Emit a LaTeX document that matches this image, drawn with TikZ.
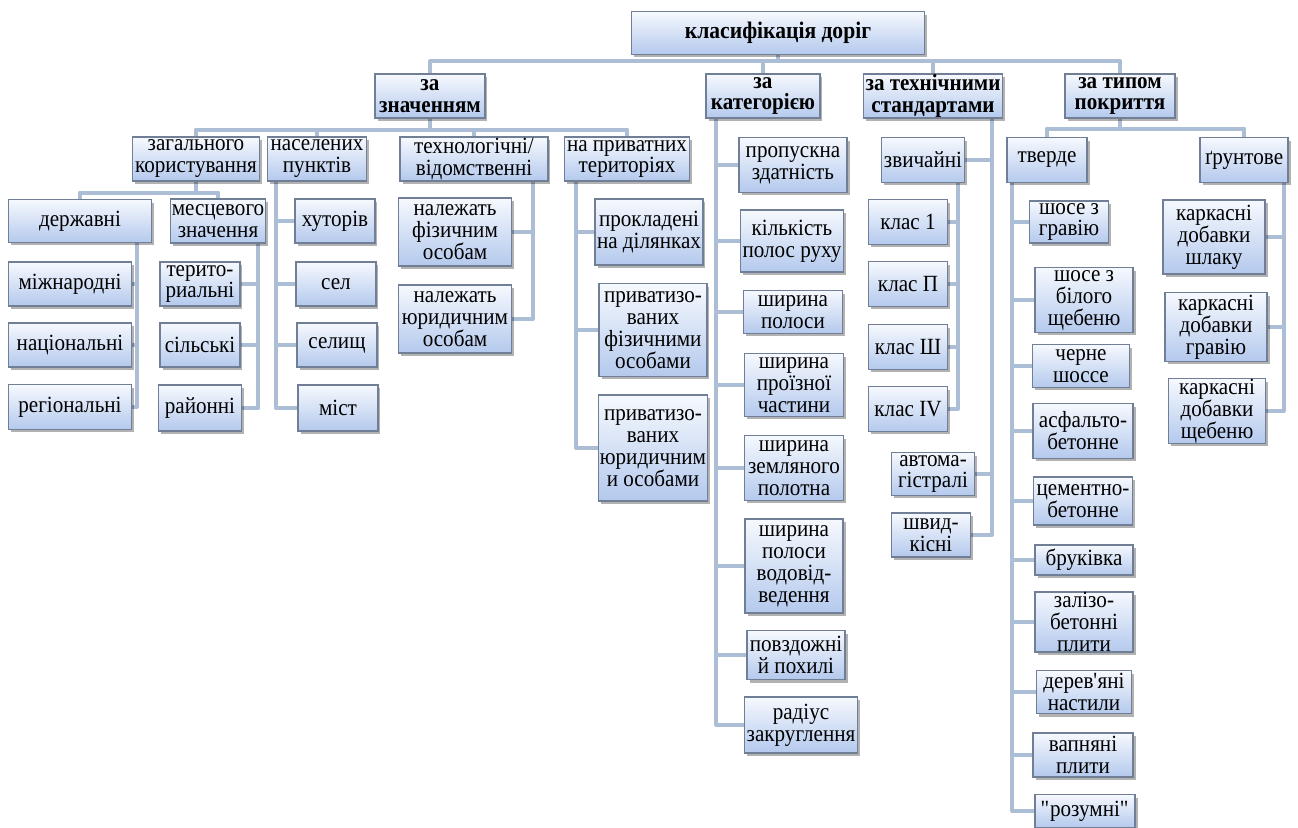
\documentclass[tikz,border=0pt]{standalone}
\usepackage{fontspec}
\setmainfont{Liberation Serif}[FakeStretch=0.91]
\usepackage{tikz}
\usetikzlibrary{shadows}
\usetikzlibrary{backgrounds}
\definecolor{boxtop}{RGB}{246,249,254}
\definecolor{boxbot}{RGB}{180,201,237}
\definecolor{boxline}{RGB}{112,126,150}
\definecolor{linkcol}{RGB}{172,189,214}
\tikzstyle{every node}+=[inner sep=0pt]
\tikzstyle{block} = [rectangle, draw=boxline, line width=0.6pt, top color=boxtop, bottom color=boxbot, align=center, inner xsep=1pt, font=\fontsize{13.2}{12.5}\selectfont, drop shadow={shadow xshift=0.05cm, shadow yshift=-0.06cm, fill=black, opacity=0.3}]
\tikzstyle{head} = [block, font=\fontsize{13.2}{12.5}\selectfont\bfseries]
\tikzstyle{line} = [draw=linkcol, line width=0.08cm, line join=round]
\tikzset{sz/.style 2 args={minimum width=#1cm, minimum height=#2cm}}

\begin{document}
\begin{tikzpicture}[x=0.02cm, y=-0.02cm]
            \useasboundingbox (0,0) rectangle (1298,828);
            % Place nodes
            \node [head, sz={5.86}{0.86}, font=\fontsize{13.5}{14}\selectfont\bfseries] (root) at (778,33) {класифікація доріг};
            \node [head, sz={2.20}{0.88}] (zn) at (430,96) {за\\значенням};
            \node [head, sz={2.28}{0.88}] (zk) at (763,96) {за\\категорією};
            \node [head, sz={2.66}{0.88}] (zt) at (933,96) {за технічними\\стандартами};
            \node [head, sz={2.20}{0.88}] (zp) at (1120,96) {за типом\\покриття};
            % за значенням
            \node [block, sz={2.54}{0.88}] (zg) at (196,159) {загального\\користування};
            \node [block, sz={1.98}{0.88}] (np) at (317,159) {населених\\пунктів};
            \node [block, sz={2.96}{0.88}] (tv) at (474,159) {технологічні/\\відомственні};
            \node [block, sz={2.50}{0.88}] (pt) at (627,159) {на приватних\\територіях};
            \node [block, sz={2.86}{0.86}] (dv) at (80,221) {державні};
            \node [block, sz={1.80}{0.88}] (mz) at (218,221) {месцевого\\значення};
            \node [block, sz={2.46}{0.88}] (mn) at (70,284) {міжнародні};
            \node [block, sz={2.46}{0.88}] (nc) at (70,345) {національні};
            \node [block, sz={2.46}{0.90}] (rg) at (70,407) {регіональні};
            \node [block, sz={1.60}{0.88}] (tr) at (200,284) {терито-\\риальні};
            \node [block, sz={1.60}{0.88}] (sl) at (200,345) {сільські};
            \node [block, sz={1.66}{0.92}] (rn) at (200,408) {районні};
            \node [block, sz={1.60}{0.88}] (xt) at (335,221) {хуторів};
            \node [block, sz={1.60}{0.88}] (sel) at (336,284) {сел};
            \node [block, sz={1.60}{0.88}] (slc) at (337,345) {селищ};
            \node [block, sz={1.60}{0.92}] (mst) at (338,408) {міст};
            \node [block, sz={2.26}{1.36}] (nf) at (455,232) {належать\\фізичним\\особам};
            \node [block, sz={2.26}{1.36}] (nj) at (455,319) {належать\\юридичним\\особам};
            \node [block, sz={2.16}{1.32}] (pd) at (649,232) {прокладені\\на ділянках};
            \node [block, sz={2.16}{1.86}] (pf) at (653,330) {приватизо-\\ваних\\фізичними\\особами};
            \node [block, sz={2.14}{2.12}] (pj) at (653,448) {приватизо-\\ваних\\юридичним\\и особами};
            % за категорією
            \node [block, sz={2.16}{1.10}] (c1) at (793,165) {пропускна\\здатність};
            \node [block, sz={1.98}{1.24}] (c2) at (792,241) {кількість\\полос руху};
            \node [block, sz={1.98}{0.86}] (c3) at (793,312) {ширина\\полоси};
            \node [block, sz={1.98}{1.26}] (c4) at (794,385) {ширина\\проїзної\\частини};
            \node [block, sz={1.98}{1.30}] (c5) at (794,468) {ширина\\земляного\\полотна};
            \node [block, sz={1.96}{1.88}] (c6) at (794,566) {ширина\\полоси\\водовід-\\ведення};
            \node [block, sz={1.96}{0.98}] (c7) at (796,655) {повздожні\\й похилі};
            \node [block, sz={2.16}{1.12}] (c8) at (801,725) {радіус\\закруглення};
            % за технічними стандартами
            \node [block, sz={1.66}{0.90}] (zv) at (923,160) {звичайні};
            \node [block, sz={1.58}{0.90}] (k1) at (908,222) {клас 1};
            \node [block, sz={1.58}{0.90}] (k2) at (908,284) {клас П};
            \node [block, sz={1.58}{0.90}] (k3) at (908,347) {клас Ш};
            \node [block, sz={1.58}{0.90}] (k4) at (908,409) {клас IV};
            \node [block, sz={1.66}{0.86}] (am) at (933,474) {автома-\\гістралі};
            \node [block, sz={1.58}{0.88}] (sh) at (931,535) {швид-\\кісні};
            % за типом покриття
            \node [block, sz={1.60}{0.90}] (tvd) at (1047,160) {тверде};
            \node [block, sz={1.76}{0.90}] (gr) at (1244,160) {ґрунтове};
            \node [block, sz={1.58}{0.84}] (s1) at (1069,222) {шосе з\\гравію};
            \node [block, sz={1.96}{1.30}] (s2) at (1084,300) {шосе з\\білого\\щебеню};
            \node [block, sz={1.94}{0.86}] (s3) at (1081,366) {черне\\шоссе};
            \node [block, sz={2.00}{1.10}] (s4) at (1083,431) {асфальто-\\бетонне};
            \node [block, sz={1.98}{0.96}] (s5) at (1083,501) {цементно-\\бетонне};
            \node [block, sz={1.96}{0.60}] (s6) at (1084,560) {бруківка};
            \node [block, sz={1.96}{1.20}] (s7) at (1084,622) {залізо-\\бетонні\\плити};
            \node [block, sz={1.90}{0.86}] (s8) at (1084,692) {дерев\textquotesingle яні\\настили};
            \node [block, sz={2.00}{0.88}] (s9) at (1083,755) {вапняні\\плити};
            \node [block, sz={2.00}{0.66}] (s10) at (1085,811) {\textquotedbl розумні\textquotedbl};
            \node [block, sz={2.04}{1.48}] (g1) at (1214,237) {каркасні\\добавки\\шлаку};
            \node [block, sz={2.04}{1.38}] (g2) at (1216,327) {каркасні\\добавки\\гравію};
            \node [block, sz={1.94}{1.16}] (g3) at (1217,411) {каркасні\\добавки\\щебеню};
            % Draw edges
            \begin{scope}[on background layer]
            \path [line] (root.south) -- ++(0,6) -| (zn.north);
            \path [line] (root.south) -- ++(0,6) -| (zk.north);
            \path [line] (root.south) -- ++(0,6) -| (zt.north);
            \path [line] (root.south) -- ++(0,6) -| (zp.north);
            \path [line] (zn.south) -- ++(0,11) -| (zg.north);
            \path [line] (zn.south) -- ++(0,11) -| (np.north);
            \path [line] (zn.south) -- ++(0,11) -| (tv.north);
            \path [line] (zn.south) -- ++(0,11) -| (pt.north);
            \path [line] (zg.south) -- ++(0,11) -| (dv.north);
            \path [line] (zg.south) -- ++(0,11) -| (mz.north);
            \path [line] ([xshift=-0.30cm]dv.south east) |- (mn.east);
            \path [line] ([xshift=-0.30cm]dv.south east) |- (nc.east);
            \path [line] ([xshift=-0.30cm]dv.south east) |- (rg.east);
            \path [line] ([xshift=-0.16cm]mz.south east) |- (tr.east);
            \path [line] ([xshift=-0.16cm]mz.south east) |- (sl.east);
            \path [line] ([xshift=-0.16cm]mz.south east) |- (rn.east);
            \path [line] ([xshift=0.18cm]np.south west) |- (xt.west);
            \path [line] ([xshift=0.18cm]np.south west) |- (sel.west);
            \path [line] ([xshift=0.18cm]np.south west) |- (slc.west);
            \path [line] ([xshift=0.18cm]np.south west) |- (mst.west);
            \path [line] ([xshift=-0.32cm]tv.south east) |- (nf.east);
            \path [line] ([xshift=-0.32cm]tv.south east) |- (nj.east);
            \path [line] ([xshift=0.24cm]pt.south west) |- (pd.west);
            \path [line] ([xshift=0.24cm]pt.south west) |- (pf.west);
            \path [line] ([xshift=0.24cm]pt.south west) |- (pj.west);
            \path [line] ([xshift=0.22cm]zk.south west) |- (c1.west);
            \path [line] ([xshift=0.22cm]zk.south west) |- (c2.west);
            \path [line] ([xshift=0.22cm]zk.south west) |- (c3.west);
            \path [line] ([xshift=0.22cm]zk.south west) |- (c4.west);
            \path [line] ([xshift=0.22cm]zk.south west) |- (c5.west);
            \path [line] ([xshift=0.22cm]zk.south west) |- (c6.west);
            \path [line] ([xshift=0.22cm]zk.south west) |- (c7.west);
            \path [line] ([xshift=0.22cm]zk.south west) |- (c8.west);
            \path [line] ([xshift=-0.22cm]zt.south east) |- (zv.east);
            \path [line] ([xshift=-0.22cm]zt.south east) |- (am.east);
            \path [line] ([xshift=-0.22cm]zt.south east) |- (sh.east);
            \path [line] ([xshift=-0.14cm]zv.south east) |- (k1.east);
            \path [line] ([xshift=-0.14cm]zv.south east) |- (k2.east);
            \path [line] ([xshift=-0.14cm]zv.south east) |- (k3.east);
            \path [line] ([xshift=-0.14cm]zv.south east) |- (k4.east);
            \path [line] (zp.south) -- ++(0,10) -| (tvd.north);
            \path [line] (zp.south) -- ++(0,10) -| (gr.north);
            \path [line] ([xshift=0.12cm]tvd.south west) |- (s1.west);
            \path [line] ([xshift=0.12cm]tvd.south west) |- (s2.west);
            \path [line] ([xshift=0.12cm]tvd.south west) |- (s3.west);
            \path [line] ([xshift=0.12cm]tvd.south west) |- (s4.west);
            \path [line] ([xshift=0.12cm]tvd.south west) |- (s5.west);
            \path [line] ([xshift=0.12cm]tvd.south west) |- (s6.west);
            \path [line] ([xshift=0.12cm]tvd.south west) |- (s7.west);
            \path [line] ([xshift=0.12cm]tvd.south west) |- (s8.west);
            \path [line] ([xshift=0.12cm]tvd.south west) |- (s9.west);
            \path [line] ([xshift=0.12cm]tvd.south west) |- (s10.west);
            \path [line] ([xshift=-0.10cm]gr.south east) |- (g1.east);
            \path [line] ([xshift=-0.10cm]gr.south east) |- (g2.east);
            \path [line] ([xshift=-0.10cm]gr.south east) |- (g3.east);
            \end{scope}
          \end{tikzpicture}
\end{document}
